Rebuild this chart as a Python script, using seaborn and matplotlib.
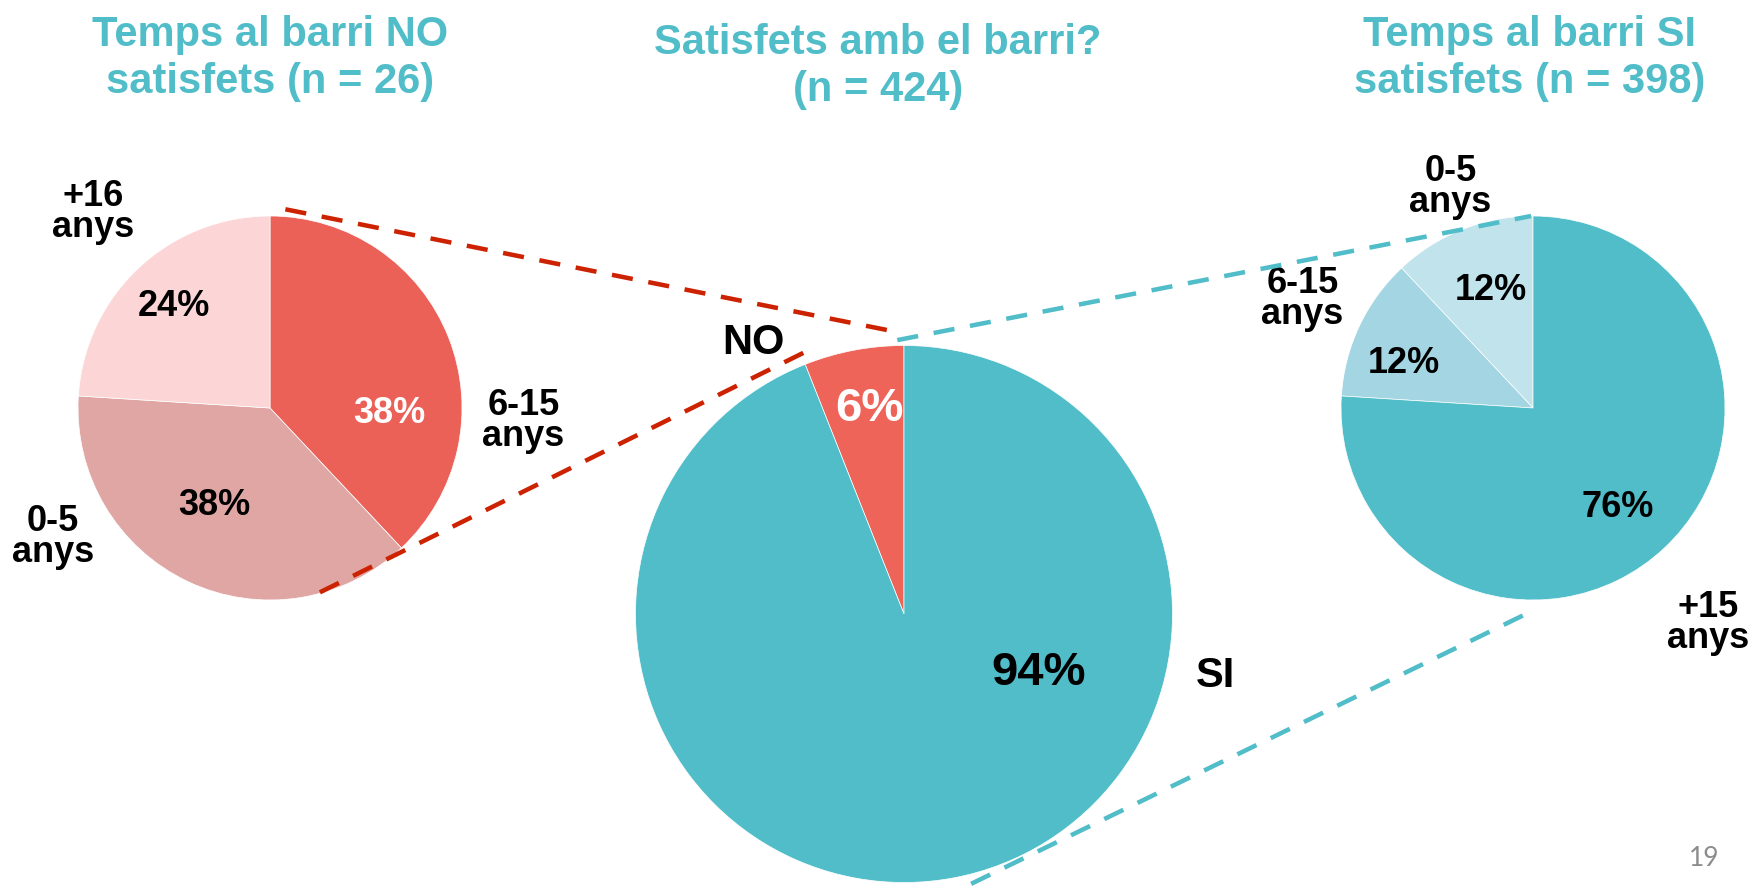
import matplotlib
matplotlib.use("Agg")
import matplotlib.pyplot as plt
import seaborn as sns
from matplotlib.patches import ConnectionPatch

# data
no_labels = ["6-15\nanys", "0-5\nanys", "+16\nanys"]
no_values = [38, 38, 24]
no_colors = ["#EB6157", "#E0A6A4", "#FCD6D6"]

all_labels = ["NO", "SI"]
all_values = [6, 94]
all_colors = ["#EE6459", "#50BDC8"]

si_labels = ["0-5\nanys", "6-15\nanys", "+15\nanys"]
si_values = [12, 12, 76]
si_colors = ["#C1E3EB", "#A3D5E3", "#50BDC8"]

titles = [
    "Temps al barri NO\nsatisfets (n = 26)",
    "Satisfets amb el barri?\n(n = 424)",
    "Temps al barri SI\nsatisfets (n = 398)",
]

TEAL = "#50BDC8"
RED_LINE = "#CC2200"

sns.set_theme(style="white")
plt.rcParams["font.family"] = ["Liberation Sans", "DejaVu Sans"]
plt.rcParams["font.weight"] = "bold"

W, H = 1758, 886
fig = plt.figure(figsize=(W / 100, H / 100), dpi=100)
fig.patch.set_facecolor("white")


def pie_axes(cx, cy, r):
    # center/radius in pixels -> axes rect in figure fraction
    return fig.add_axes([(cx - r) / W, (H - cy - r) / H, 2 * r / W, 2 * r / H])


def draw_pie(ax, values, colors, counterclock, pct_pos, pct_colors, pct_size,
             labels, lab_pos, lab_size):
    wedges, _, autotexts = ax.pie(
        values, colors=colors, startangle=90, counterclock=counterclock,
        radius=1, autopct="%d%%", labels=None,
        wedgeprops=dict(linewidth=0.5, edgecolor="white"),
    )
    for t, pos, c in zip(autotexts, pct_pos, pct_colors):
        t.set_position(pos)
        t.set_color(c)
        t.set_fontsize(pct_size)
        t.set_fontweight("bold")
    for lab, pos in zip(labels, lab_pos):
        ax.text(pos[0], pos[1], lab, ha="center", va="center", fontsize=lab_size,
                fontweight="bold", color="black", linespacing=0.85)
    ax.set_xlim(-1, 1)
    ax.set_ylim(-1, 1)
    ax.set_aspect("equal")
    ax.axis("off")


ax_l = pie_axes(270, 408, 192)
ax_m = pie_axes(904, 614, 268.5)
ax_r = pie_axes(1533, 408, 192)

draw_pie(ax_l, no_values, no_colors, False,
         [(0.62, -0.03), (-0.29, -0.51), (-0.50, 0.53)],
         ["white", "black", "black"], 26,
         no_labels, [(1.32, -0.07), (-1.13, -0.67), (-0.92, 1.02)], 26)

draw_pie(ax_m, all_values, all_colors, True,
         [(-0.13, 0.765), (0.50, -0.22)],
         ["white", "black"], 34,
         all_labels, [(-0.56, 1.01), (1.16, -0.23)], 30)

draw_pie(ax_r, si_values, si_colors, True,
         [(-0.22, 0.61), (-0.67, 0.23), (0.44, -0.52)],
         ["black", "black", "black"], 26,
         si_labels, [(-0.43, 1.15), (-1.20, 0.57), (0.91, -1.12)], 26)

# titles
for x, y, t in zip([270 / W, 878 / W, 1530 / W], [0.934, 0.925, 0.934], titles):
    fig.text(x, y, t, ha="center", va="center", fontsize=30, fontweight="bold",
             color=TEAL, linespacing=1.2)

# connector lines
dash = (0, (4.7, 3.5))
links = [
    (ax_l, (0.08, 1.035), ax_m, (-0.025, 1.05), RED_LINE),
    (ax_l, (0.26, -0.96), ax_m, (-0.36, 0.98), RED_LINE),
    (ax_m, (-0.025, 1.02), ax_r, (-0.01, 1.0), TEAL),
    (ax_m, (0.25, -1.005), ax_r, (-0.01, -1.06), TEAL),
]
for axa, pa, axb, pb, col in links:
    con = ConnectionPatch(xyA=pa, coordsA=axa.transData, xyB=pb, coordsB=axb.transData,
                          color=col, lw=3.25, linestyle=dash, capstyle="butt")
    fig.add_artist(con)

fig.text(1704 / W, 1 - 858 / H, "19", ha="center", va="center", fontsize=19,
         fontweight="normal", color="#8C8C8C", family=["Lato", "DejaVu Sans"])

fig.savefig("out.png", dpi=100, facecolor="white")
